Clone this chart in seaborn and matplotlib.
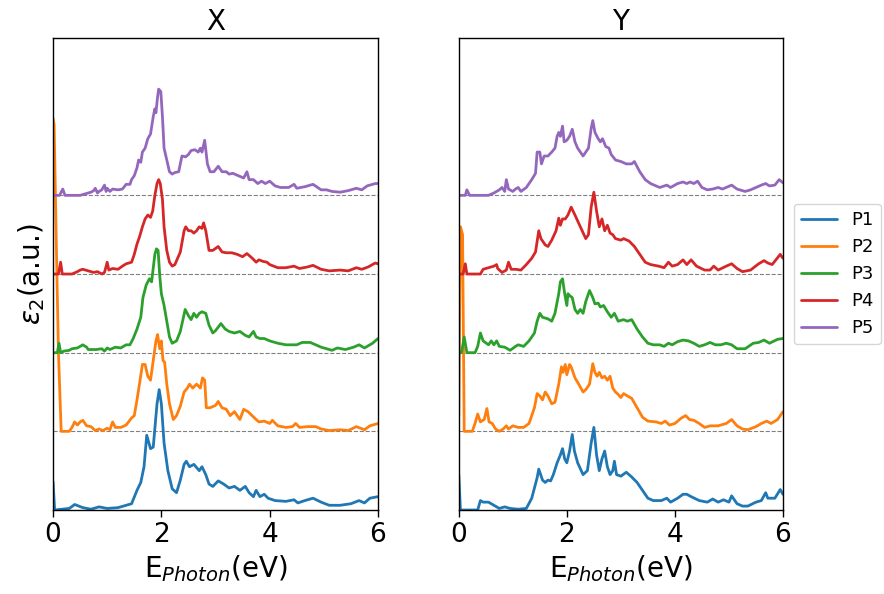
import numpy as np
import pandas as pd
import seaborn as sns
import matplotlib
matplotlib.use("Agg")
import matplotlib.pyplot as plt

samples = ["P1", "P2", "P3", "P4", "P5"]
panels = ["X", "Y"]

# ---- X polarisation, eps2 (a.u.) ----
e_p1_x = [0.0, 0.03, 0.3, 0.4, 0.55, 0.7, 0.85, 1.0, 1.2, 1.35, 1.45, 1.55, 1.62, 1.68, 1.73, 1.8, 1.85,
          1.92, 1.96, 2.0, 2.05, 2.12, 2.2, 2.28, 2.35, 2.42, 2.46, 2.52, 2.6, 2.7, 2.75, 2.82, 2.88,
          2.95, 3.05, 3.15, 3.25, 3.35, 3.45, 3.55, 3.62, 3.7, 3.75, 3.82, 3.9, 3.97, 4.1, 4.3, 4.45,
          4.52, 4.65, 4.8, 4.95, 5.1, 5.3, 5.5, 5.65, 5.75, 5.85, 6.0]
v_p1_x = [0.36, 0.0, 0.02, 0.07, 0.03, 0.01, 0.04, 0.02, 0.03, 0.06, 0.08, 0.25, 0.35, 0.55, 0.95, 0.78, 0.8,
          1.35, 1.53, 1.35, 0.85, 0.5, 0.27, 0.22, 0.38, 0.58, 0.62, 0.55, 0.58, 0.5, 0.55, 0.45, 0.33,
          0.3, 0.37, 0.33, 0.28, 0.3, 0.25, 0.3, 0.22, 0.17, 0.25, 0.17, 0.2, 0.15, 0.12, 0.11, 0.13,
          0.09, 0.12, 0.15, 0.1, 0.06, 0.06, 0.08, 0.12, 0.09, 0.15, 0.17]

e_p2_x = [0.0, 0.02, 0.06, 0.1, 0.15, 0.3, 0.35, 0.4, 0.45, 0.5, 0.55, 0.62, 0.7, 0.78, 0.85, 0.92, 1.0,
          1.05, 1.1, 1.15, 1.25, 1.35, 1.45, 1.5, 1.55, 1.6, 1.65, 1.7, 1.75, 1.8, 1.85, 1.9, 1.93,
          1.97, 2.0, 2.03, 2.06, 2.1, 2.15, 2.22, 2.28, 2.35, 2.42, 2.48, 2.52, 2.58, 2.65, 2.72, 2.76,
          2.8, 2.83, 2.9, 3.0, 3.05, 3.12, 3.2, 3.27, 3.35, 3.45, 3.52, 3.6, 3.72, 3.8, 3.9, 4.0,
          4.05, 4.15, 4.3, 4.42, 4.48, 4.55, 4.7, 4.85, 4.95, 5.1, 5.3, 5.45, 5.6, 5.75, 5.85, 6.0]
v_p2_x = [3.98, 3.9, 2.4, 1.0, 0.0, 0.0, 0.05, 0.12, 0.08, 0.12, 0.14, 0.07, 0.06, 0.01, 0.03, 0.01, 0.04,
          0.02, 0.12, 0.05, 0.05, 0.08, 0.17, 0.2, 0.4, 0.62, 0.85, 0.85, 0.7, 0.65, 0.9, 1.15, 1.23,
          1.05, 1.15, 0.9, 0.88, 0.6, 0.35, 0.15, 0.2, 0.32, 0.5, 0.55, 0.6, 0.55, 0.6, 0.55, 0.68,
          0.65, 0.3, 0.3, 0.33, 0.38, 0.3, 0.28, 0.2, 0.25, 0.15, 0.28, 0.25, 0.17, 0.12, 0.13, 0.1,
          0.14, 0.07, 0.05, 0.06, 0.1, 0.05, 0.06, 0.06, 0.03, 0.01, 0.02, 0.01, 0.06, 0.02, 0.07, 0.1]

e_p3_x = [0.0, 0.08, 0.11, 0.14, 0.2, 0.3, 0.35, 0.45, 0.5, 0.55, 0.62, 0.65, 0.8, 0.9, 0.95, 1.0, 1.05,
          1.15, 1.25, 1.35, 1.42, 1.48, 1.55, 1.62, 1.66, 1.72, 1.78, 1.82, 1.88, 1.91, 1.94, 1.97, 2.0,
          2.05, 2.1, 2.15, 2.2, 2.28, 2.35, 2.44, 2.5, 2.55, 2.6, 2.65, 2.7, 2.75, 2.82, 2.88, 2.95,
          3.0, 3.1, 3.18, 3.25, 3.35, 3.45, 3.55, 3.62, 3.7, 3.75, 3.82, 3.9, 4.0, 4.15, 4.3, 4.5,
          4.6, 4.75, 4.85, 4.95, 5.05, 5.15, 5.25, 5.4, 5.55, 5.65, 5.75, 5.9, 6.0]
v_p3_x = [0.0, 0.0, 0.12, 0.0, 0.02, 0.03, 0.05, 0.06, 0.08, 0.1, 0.07, 0.04, 0.04, 0.05, 0.02, 0.06, 0.04,
          0.07, 0.06, 0.1, 0.1, 0.18, 0.3, 0.45, 0.7, 0.86, 0.94, 0.9, 1.25, 1.32, 1.3, 0.98, 0.75,
          0.6, 0.4, 0.2, 0.12, 0.15, 0.27, 0.55, 0.47, 0.42, 0.5, 0.45, 0.5, 0.52, 0.5, 0.35, 0.25,
          0.28, 0.37, 0.3, 0.27, 0.25, 0.27, 0.22, 0.2, 0.27, 0.2, 0.18, 0.18, 0.15, 0.12, 0.1, 0.1,
          0.13, 0.13, 0.1, 0.07, 0.05, 0.03, 0.06, 0.04, 0.07, 0.1, 0.06, 0.12, 0.18]

e_p4_x = [0.0, 0.1, 0.14, 0.17, 0.35, 0.45, 0.5, 0.55, 0.65, 0.75, 0.82, 0.9, 0.95, 1.0, 1.03, 1.1, 1.2,
          1.28, 1.35, 1.45, 1.5, 1.55, 1.6, 1.65, 1.7, 1.75, 1.8, 1.84, 1.88, 1.92, 1.95, 1.98, 2.02,
          2.05, 2.1, 2.15, 2.2, 2.25, 2.3, 2.35, 2.42, 2.45, 2.5, 2.55, 2.6, 2.65, 2.7, 2.75, 2.78,
          2.82, 2.88, 2.95, 3.05, 3.12, 3.2, 3.3, 3.4, 3.5, 3.58, 3.68, 3.75, 3.8, 3.88, 3.95, 4.0,
          4.15, 4.3, 4.45, 4.55, 4.7, 4.8, 4.95, 5.1, 5.3, 5.45, 5.6, 5.7, 5.82, 5.95, 6.0]
v_p4_x = [0.0, 0.0, 0.15, 0.0, 0.0, 0.03, 0.05, 0.06, 0.04, 0.02, 0.03, 0.0, 0.02, 0.15, 0.05, 0.07, 0.06,
          0.1, 0.13, 0.15, 0.25, 0.38, 0.48, 0.6, 0.7, 0.75, 0.72, 0.8, 1.0, 1.15, 1.2, 1.15, 0.95,
          0.6, 0.3, 0.15, 0.1, 0.12, 0.2, 0.28, 0.55, 0.6, 0.55, 0.55, 0.52, 0.55, 0.6, 0.58, 0.65,
          0.55, 0.3, 0.3, 0.35, 0.28, 0.27, 0.27, 0.25, 0.22, 0.26, 0.2, 0.15, 0.18, 0.16, 0.15, 0.12,
          0.08, 0.08, 0.1, 0.07, 0.09, 0.11, 0.06, 0.04, 0.05, 0.04, 0.08, 0.06, 0.09, 0.14, 0.13]

e_p5_x = [0.0, 0.12, 0.18, 0.22, 0.5, 0.6, 0.7, 0.75, 0.78, 0.82, 0.85, 0.9, 0.95, 0.98, 1.0, 1.05, 1.1,
          1.2, 1.28, 1.35, 1.42, 1.45, 1.5, 1.55, 1.58, 1.62, 1.65, 1.7, 1.75, 1.8, 1.85, 1.88, 1.9,
          1.93, 1.95, 1.99, 2.02, 2.05, 2.1, 2.15, 2.2, 2.25, 2.32, 2.38, 2.45, 2.5, 2.55, 2.62, 2.68,
          2.72, 2.75, 2.8, 2.85, 2.9, 2.97, 3.05, 3.12, 3.2, 3.25, 3.32, 3.42, 3.52, 3.58, 3.62, 3.7,
          3.78, 3.85, 3.92, 4.0, 4.1, 4.2, 4.35, 4.45, 4.5, 4.65, 4.8, 4.95, 5.05, 5.15, 5.3, 5.45,
          5.6, 5.7, 5.8, 5.95, 6.0]
v_p5_x = [0.0, 0.0, 0.08, 0.0, 0.0, 0.02, 0.04, 0.06, 0.09, 0.03, 0.05, 0.07, 0.13, 0.05, 0.09, 0.05, 0.08,
          0.07, 0.08, 0.14, 0.14, 0.2, 0.25, 0.35, 0.45, 0.42, 0.55, 0.6, 0.72, 0.78, 1.0, 1.1, 1.05,
          1.25, 1.35, 1.32, 1.0, 0.6, 0.45, 0.3, 0.27, 0.29, 0.3, 0.5, 0.49, 0.52, 0.57, 0.58, 0.55,
          0.6, 0.55, 0.7, 0.4, 0.3, 0.3, 0.37, 0.3, 0.3, 0.27, 0.28, 0.25, 0.22, 0.3, 0.2, 0.2,
          0.15, 0.18, 0.15, 0.18, 0.12, 0.1, 0.1, 0.14, 0.09, 0.11, 0.14, 0.07, 0.07, 0.05, 0.04, 0.06,
          0.09, 0.07, 0.12, 0.15, 0.15]

# ---- Y polarisation ----
e_p1_y = [0.0, 0.03, 0.35, 0.4, 0.45, 0.55, 0.65, 0.75, 0.85, 0.95, 1.1, 1.25, 1.35, 1.45, 1.48, 1.55, 1.6,
          1.65, 1.7, 1.75, 1.82, 1.88, 1.92, 1.96, 2.0, 2.05, 2.1, 2.14, 2.2, 2.3, 2.38, 2.45, 2.5,
          2.55, 2.6, 2.65, 2.7, 2.75, 2.8, 2.85, 2.88, 2.92, 3.0, 3.1, 3.2, 3.3, 3.4, 3.5, 3.6,
          3.75, 3.85, 3.92, 4.05, 4.15, 4.22, 4.3, 4.45, 4.6, 4.7, 4.8, 4.9, 5.0, 5.05, 5.15, 5.25,
          5.35, 5.5, 5.6, 5.68, 5.72, 5.85, 5.95, 6.0]
v_p1_y = [0.45, 0.0, 0.0, 0.12, 0.1, 0.1, 0.06, 0.02, 0.04, 0.02, 0.01, 0.02, 0.15, 0.41, 0.52, 0.38, 0.35,
          0.38, 0.37, 0.45, 0.6, 0.7, 0.78, 0.65, 0.6, 0.75, 0.96, 0.75, 0.6, 0.45, 0.5, 0.85, 1.05,
          0.7, 0.5, 0.65, 0.75, 0.55, 0.45, 0.5, 0.62, 0.45, 0.43, 0.48, 0.42, 0.35, 0.25, 0.15, 0.12,
          0.12, 0.15, 0.1, 0.15, 0.2, 0.2, 0.17, 0.12, 0.1, 0.14, 0.1, 0.13, 0.1, 0.18, 0.08, 0.05,
          0.05, 0.1, 0.12, 0.22, 0.15, 0.15, 0.26, 0.2]

e_p2_y = [0.0, 0.03, 0.07, 0.1, 0.15, 0.25, 0.3, 0.35, 0.4, 0.47, 0.52, 0.56, 0.62, 0.68, 0.75, 0.82, 0.88,
          0.92, 1.0, 1.1, 1.2, 1.3, 1.4, 1.45, 1.5, 1.55, 1.6, 1.65, 1.72, 1.78, 1.85, 1.9, 1.93,
          1.97, 2.0, 2.05, 2.08, 2.15, 2.22, 2.3, 2.35, 2.42, 2.48, 2.52, 2.56, 2.6, 2.65, 2.7, 2.75,
          2.8, 2.85, 2.9, 2.95, 3.0, 3.05, 3.12, 3.2, 3.3, 3.4, 3.5, 3.65, 3.75, 3.82, 3.9, 4.0,
          4.12, 4.2, 4.27, 4.35, 4.45, 4.55, 4.65, 4.8, 4.95, 5.05, 5.15, 5.25, 5.35, 5.5, 5.6, 5.7,
          5.78, 5.9, 6.0]
v_p2_y = [0.2, 2.6, 2.5, 0.0, 0.0, 0.0, 0.1, 0.22, 0.12, 0.15, 0.29, 0.12, 0.1, 0.03, 0.0, 0.03, 0.07,
          0.03, 0.07, 0.05, 0.05, 0.1, 0.3, 0.48, 0.45, 0.4, 0.5, 0.45, 0.35, 0.37, 0.6, 0.82, 0.75,
          0.85, 0.72, 0.85, 0.82, 0.68, 0.6, 0.5, 0.53, 0.6, 0.86, 0.75, 0.7, 0.75, 0.68, 0.7, 0.65,
          0.7, 0.55, 0.5, 0.47, 0.43, 0.48, 0.45, 0.42, 0.3, 0.18, 0.13, 0.12, 0.1, 0.13, 0.08, 0.1,
          0.17, 0.2, 0.15, 0.14, 0.1, 0.05, 0.07, 0.07, 0.1, 0.15, 0.07, 0.03, 0.02, 0.06, 0.1, 0.13,
          0.1, 0.15, 0.25]

e_p3_y = [0.0, 0.05, 0.1, 0.15, 0.3, 0.35, 0.4, 0.45, 0.55, 0.6, 0.65, 0.7, 0.75, 0.85, 0.95, 1.05, 1.1,
          1.2, 1.3, 1.4, 1.45, 1.5, 1.55, 1.65, 1.72, 1.78, 1.85, 1.88, 1.92, 1.96, 2.0, 2.02, 2.06,
          2.1, 2.15, 2.2, 2.25, 2.3, 2.35, 2.42, 2.48, 2.52, 2.58, 2.62, 2.68, 2.75, 2.82, 2.88, 2.95,
          3.05, 3.12, 3.2, 3.3, 3.4, 3.5, 3.6, 3.72, 3.8, 3.88, 3.95, 4.05, 4.15, 4.25, 4.35, 4.45,
          4.55, 4.65, 4.75, 4.85, 4.95, 5.05, 5.15, 5.3, 5.45, 5.55, 5.65, 5.75, 5.9, 6.0]
v_p3_y = [0.0, 0.0, 0.2, 0.0, 0.0, 0.08, 0.25, 0.15, 0.1, 0.15, 0.1, 0.15, 0.08, 0.07, 0.03, 0.08, 0.1,
          0.08, 0.15, 0.25, 0.4, 0.5, 0.45, 0.43, 0.4, 0.5, 0.75, 0.9, 0.94, 0.75, 0.6, 0.75, 0.72,
          0.7, 0.55, 0.5, 0.55, 0.5, 0.65, 0.79, 0.7, 0.62, 0.63, 0.58, 0.6, 0.52, 0.45, 0.5, 0.4,
          0.42, 0.4, 0.42, 0.3, 0.2, 0.12, 0.1, 0.1, 0.08, 0.12, 0.1, 0.14, 0.16, 0.15, 0.12, 0.08,
          0.1, 0.13, 0.1, 0.1, 0.12, 0.1, 0.05, 0.05, 0.12, 0.13, 0.16, 0.12, 0.17, 0.18]

e_p4_y = [0.0, 0.08, 0.12, 0.15, 0.4, 0.45, 0.55, 0.65, 0.7, 0.72, 0.8, 0.88, 0.92, 0.97, 1.05, 1.15, 1.25,
          1.35, 1.42, 1.48, 1.52, 1.6, 1.65, 1.72, 1.8, 1.85, 1.88, 1.92, 1.97, 2.02, 2.08, 2.15, 2.25,
          2.35, 2.4, 2.45, 2.5, 2.55, 2.6, 2.65, 2.7, 2.75, 2.8, 2.85, 2.9, 3.0, 3.05, 3.15, 3.25,
          3.35, 3.45, 3.55, 3.7, 3.8, 3.88, 3.95, 4.05, 4.15, 4.22, 4.3, 4.4, 4.55, 4.65, 4.72, 4.8,
          4.95, 5.05, 5.15, 5.25, 5.4, 5.55, 5.65, 5.72, 5.8, 5.95, 6.0]
v_p4_y = [0.0, 0.0, 0.13, 0.0, 0.0, 0.06, 0.08, 0.1, 0.12, 0.07, 0.02, 0.05, 0.15, 0.06, 0.06, 0.05, 0.12,
          0.2, 0.28, 0.55, 0.45, 0.37, 0.35, 0.43, 0.55, 0.71, 0.62, 0.7, 0.7, 0.75, 0.85, 0.75, 0.6,
          0.45, 0.5, 0.85, 1.04, 0.8, 0.6, 0.7, 0.55, 0.62, 0.52, 0.5, 0.45, 0.43, 0.45, 0.42, 0.35,
          0.25, 0.15, 0.12, 0.1, 0.08, 0.15, 0.1, 0.12, 0.18, 0.12, 0.18, 0.1, 0.05, 0.05, 0.1, 0.05,
          0.1, 0.13, 0.07, 0.03, 0.05, 0.13, 0.17, 0.14, 0.12, 0.25, 0.2]

e_p5_y = [0.0, 0.12, 0.15, 0.2, 0.55, 0.65, 0.75, 0.8, 0.85, 0.88, 0.92, 1.0, 1.05, 1.1, 1.15, 1.25, 1.35,
          1.42, 1.45, 1.5, 1.53, 1.58, 1.65, 1.72, 1.78, 1.82, 1.85, 1.88, 1.92, 1.95, 2.0, 2.05, 2.1,
          2.15, 2.2, 2.25, 2.3, 2.35, 2.4, 2.45, 2.48, 2.52, 2.58, 2.62, 2.66, 2.72, 2.78, 2.82, 2.9,
          3.0, 3.1, 3.2, 3.25, 3.35, 3.45, 3.55, 3.65, 3.72, 3.85, 3.92, 4.05, 4.15, 4.22, 4.28, 4.35,
          4.42, 4.5, 4.6, 4.7, 4.8, 4.88, 5.05, 5.15, 5.3, 5.4, 5.5, 5.6, 5.68, 5.75, 5.85, 5.93, 6.0]
v_p5_y = [0.0, 0.0, 0.07, 0.0, 0.0, 0.03, 0.07, 0.1, 0.05, 0.2, 0.08, 0.05, 0.08, 0.1, 0.05, 0.1, 0.2,
          0.28, 0.55, 0.55, 0.4, 0.5, 0.5, 0.55, 0.6, 0.75, 0.8, 0.75, 0.88, 0.68, 0.7, 0.75, 0.84,
          0.68, 0.6, 0.55, 0.5, 0.55, 0.6, 0.85, 0.95, 0.8, 0.72, 0.68, 0.72, 0.62, 0.6, 0.52, 0.45,
          0.43, 0.4, 0.4, 0.43, 0.3, 0.2, 0.15, 0.12, 0.1, 0.13, 0.1, 0.15, 0.17, 0.15, 0.17, 0.15,
          0.18, 0.1, 0.07, 0.08, 0.1, 0.08, 0.13, 0.08, 0.05, 0.07, 0.1, 0.13, 0.15, 0.12, 0.13, 0.2, 0.16]

spectra = {
    "X": [(e_p1_x, v_p1_x), (e_p2_x, v_p2_x), (e_p3_x, v_p3_x), (e_p4_x, v_p4_x), (e_p5_x, v_p5_x)],
    "Y": [(e_p1_y, v_p1_y), (e_p2_y, v_p2_y), (e_p3_y, v_p3_y), (e_p4_y, v_p4_y), (e_p5_y, v_p5_y)],
}
offset = 1.0  # vertical shift between stacked spectra

sns.set_style("ticks")
plt.rcParams["font.family"] = ["DejaVu Sans"]
plt.rcParams.update({"text.color": "black", "axes.labelcolor": "black",
                     "xtick.color": "black", "ytick.color": "black",
                     "axes.edgecolor": "black"})

fig = plt.figure(figsize=(8.84, 5.94), dpi=100)
ax1 = fig.add_axes([0.060, 0.1414, 0.3676, 0.7946])
ax2 = fig.add_axes([0.519, 0.1414, 0.3667, 0.7946])

for ax, pol in zip([ax1, ax2], panels):
    rows = []
    for i, (name, (e, v)) in enumerate(zip(samples, spectra[pol])):
        for ee, vv in zip(e, v):
            rows.append({"E": ee, "eps2": vv + i * offset, "sample": name})
    df = pd.DataFrame(rows)
    for i in range(1, len(samples)):
        ax.axhline(i * offset, color="gray", ls="--", lw=0.8, zorder=1)
    sns.lineplot(data=df, x="E", y="eps2", hue="sample", hue_order=samples,
                 palette="tab10", lw=2, ax=ax, legend=(pol == "Y"),
                 estimator=None, sort=True)
    ax.set_xlim(0, 6)
    ax.set_ylim(0, 6)
    ax.set_xticks([0, 2, 4, 6])
    ax.set_yticks([])
    ax.tick_params(axis="x", labelsize=19, length=5, width=1)
    ax.set_title(pol, fontsize=20)
    ax.set_xlabel(r"E$_{Photon}$(eV)", fontsize=20)
    ax.set_ylabel("")
    for sp in ax.spines.values():
        sp.set_visible(True)
        sp.set_linewidth(1)

ax1.set_ylabel(r"$\varepsilon_2$(a.u.)", fontsize=20)
sns.move_legend(ax2, "center left", bbox_to_anchor=(1.005, 0.5), title=None,
                fontsize=13, frameon=True)

fig.savefig("out.png", dpi=100)
